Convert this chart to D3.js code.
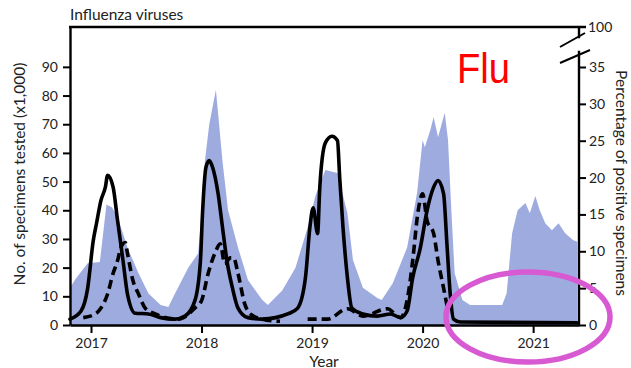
<!DOCTYPE html>
<html><head><meta charset="utf-8">
<script src="https://cdn.jsdelivr.net/npm/d3@7"></script>
<style>body{margin:0;background:#fff}svg{display:block}</style>
</head><body><svg id="c" width="631" height="368"></svg>
<script>
// Number of specimens tested (x1,000) – shaded area, left axis
const specYears = [2016.81,2016.86,2016.97,2017.08,2017.14,2017.19,2017.24,2017.33,2017.43,2017.52,2017.63,2017.70,2017.76,2017.88,2017.97,2018.00,2018.03,2018.07,2018.13,2018.19,2018.24,2018.33,2018.42,2018.55,2018.60,2018.73,2018.85,2018.96,2019.03,2019.12,2019.23,2019.32,2019.37,2019.46,2019.59,2019.63,2019.73,2019.86,2019.95,2020.00,2020.02,2020.07,2020.10,2020.14,2020.20,2020.23,2020.26,2020.29,2020.36,2020.43,2020.72,2020.76,2020.81,2020.86,2020.93,2020.97,2021.02,2021.06,2021.11,2021.17,2021.23,2021.29,2021.36,2021.40];
const specValues = [13,16,21.5,22,42,41,37.7,27,18,11,7,6.3,11,20,25,40,57,70,82,57,40,27,15.7,8.7,7,12,20,34,45,54,53,39,22.7,13,9.4,8.7,14.6,27,46,64.5,62,68,72.5,65.5,74,64.5,40,18,8.7,7,7,11,32,40,42.5,39,45,40,35.5,33,35.5,32,29.6,29];
// Percentage positive – clinical labs (solid), right axis
const clinYears = [2016.81,2016.91,2016.97,2017.02,2017.05,2017.09,2017.13,2017.15,2017.20,2017.24,2017.29,2017.33,2017.40,2017.52,2017.63,2017.76,2017.85,2017.94,2017.99,2018.01,2018.04,2018.07,2018.10,2018.15,2018.19,2018.23,2018.28,2018.33,2018.42,2018.55,2018.67,2018.78,2018.87,2018.94,2018.98,2019.01,2019.05,2019.07,2019.12,2019.18,2019.23,2019.25,2019.28,2019.32,2019.36,2019.46,2019.59,2019.71,2019.80,2019.86,2019.91,2019.98,2020.04,2020.10,2020.14,2020.19,2020.22,2020.25,2020.28,2020.34,2021.40];
const clinPct = [0.8,1.9,5,11.4,13.8,16.9,18.7,20.3,18.7,14.2,8.7,4.2,1.6,1.5,1,0.8,1.2,3.3,8.7,15.5,21.4,22.3,21.4,17.8,13.2,8.7,5,2.3,1,0.8,1,1.5,2.3,6.4,13.2,15.9,12.4,18.7,24.7,25.6,25,20,13.2,6.4,2.3,1.5,1.2,1.5,1,1.9,6.4,10.5,15.5,18.7,19.6,17.8,11,4.2,0.8,0.4,0.3];
// Percentage positive – public health labs (dashed), right axis (null = gap)
const phlYears = [2016.93,2017.04,2017.09,2017.15,2017.20,2017.24,2017.27,2017.31,2017.33,2017.38,2017.43,2017.49,2017.58,2017.79,2017.94,2018.00,2018.06,2018.12,2018.17,2018.21,2018.26,2018.29,2018.33,2018.39,2018.44,2018.55,2018.71,2018.85,2018.96,2019.14,2019.32,2019.46,2019.68,2019.80,2019.87,2019.91,2019.96,2020.00,2020.04,2020.10,2020.14,2020.19,2020.23];
const phlPct = [1,1.5,2.3,4.2,7,8.7,10.5,11.2,9.7,6,4.2,2.3,1.5,0.8,2.3,3.3,7,9.7,11,8.3,9.1,9.1,7,2.9,1.5,0.8,0.5,null,0.8,0.8,2.2,1.2,2.2,1,4.2,8.7,15.5,17.8,14.2,12.4,8.7,5,1.9];

const yearTicks = [2017,2018,2019,2020,2021];
const leftTicks = [0,10,20,30,40,50,60,70,80,90];
const rightTicks = [0,5,10,15,20,25,30,35];
const rightBreakLabel = "100";
const title = "Influenza viruses";
const leftTitle = "No. of specimens tested (x1,000)";
const rightTitle = "Percentage of positive specimens";
const xTitle = "Year";
const note = "Flu";

const svg = d3.select("#c");
const font = "Lato, 'Open Sans', sans-serif";
const L = 70, R = 579, T = 27, B = 325;

const x = d3.scaleLinear().domain([2016.81, 2021.415]).range([L, R]);
const yL = d3.scaleLinear().domain([0, 103.9]).range([B, T]);
const yR = d3.scaleLinear().domain([0, 35]).range([B, 67]);

const spec = specYears.map((d,i)=>({x:d,v:specValues[i]}));
const clin = clinYears.map((d,i)=>({x:d,v:clinPct[i]}));
const phl = phlYears.map((d,i)=>({x:d,v:phlPct[i]}));

svg.append("path").datum(spec)
  .attr("d", d3.area().x(d=>x(d.x)).y0(B).y1(d=>yL(d.v)))
  .attr("fill", "#9eabdf");

svg.append("path").datum(clin)
  .attr("d", d3.line().x(d=>x(d.x)).y(d=>yR(d.v)).curve(d3.curveMonotoneX))
  .attr("fill","none").attr("stroke","#000").attr("stroke-width",3.6)
  .attr("stroke-linejoin","round").attr("stroke-linecap","round");

svg.append("path").datum(phl)
  .attr("d", d3.line().defined(d=>d.v!==null).x(d=>x(d.x)).y(d=>yR(d.v)).curve(d3.curveMonotoneX))
  .attr("fill","none").attr("stroke","#000").attr("stroke-width",3.6)
  .attr("stroke-dasharray","9,5");

// Left axis
const gL = svg.append("g").attr("transform",`translate(${L},0)`)
  .call(d3.axisLeft(yL).tickValues(leftTicks).tickSize(7).tickSizeOuter(0).tickPadding(5));
// Bottom axis
const gB = svg.append("g").attr("transform",`translate(0,${B})`)
  .call(d3.axisBottom(x).tickValues(yearTicks).tickFormat(d3.format("d")).tickSize(8).tickSizeOuter(0).tickPadding(5));
// Right axis
const gR = svg.append("g").attr("transform",`translate(${R},0)`)
  .call(d3.axisRight(yR).tickValues(rightTicks).tickSize(7).tickSizeOuter(0).tickPadding(3));
gR.select(".domain").remove();

[gL,gB,gR].forEach(g=>{
  g.selectAll(".domain").attr("stroke","#000").attr("stroke-width",2.4);
  g.selectAll(".tick line").attr("stroke","#000").attr("stroke-width",2);
  g.selectAll(".tick text").attr("fill","#222").style("font-family",font).style("font-size","14px");
});

// right axis broken line
svg.append("line").attr("x1",R).attr("x2",R).attr("y1",B).attr("y2",yR(37.2)).attr("stroke","#000").attr("stroke-width",2.4);
svg.append("line").attr("x1",R).attr("x2",R).attr("y1",T).attr("y2",yR(38.9)).attr("stroke","#000").attr("stroke-width",2.4);
// top frame
svg.append("line").attr("x1",L-1).attr("x2",R+7).attr("y1",T).attr("y2",T).attr("stroke","#000").attr("stroke-width",2.4);
svg.append("text").attr("x",R+9).attr("y",T).attr("dy","0.35em").text(rightBreakLabel)
  .attr("fill","#222").style("font-family",font).style("font-size","14px");
// break marks
const bm = [[ [R-19,47],[R+6,33] ],[ [R-19,63],[R+11,50] ]];
bm.forEach(s=>svg.append("line").attr("x1",s[0][0]).attr("y1",s[0][1]).attr("x2",s[1][0]).attr("y2",s[1][1])
  .attr("stroke","#000").attr("stroke-width",2));

// titles
svg.append("text").attr("x",L).attr("y",20).text(title)
  .attr("fill","#222").style("font-family",font).style("font-size","15.5px");
svg.append("text").attr("transform",`translate(25,${(T+B)/2-2}) rotate(-90)`).attr("text-anchor","middle").text(leftTitle)
  .attr("fill","#222").style("font-family",font).style("font-size","15.5px");
svg.append("text").attr("transform",`translate(616,${(T+B)/2+7}) rotate(90)`).attr("text-anchor","middle").text(rightTitle)
  .attr("fill","#222").style("font-family",font).style("font-size","15.5px");
svg.append("text").attr("x",324).attr("y",366.5).attr("text-anchor","middle").text(xTitle)
  .attr("fill","#222").style("font-family",font).style("font-size","15.5px");

svg.append("text").attr("x",457).attr("y",83).text(note)
  .attr("fill","#ff0000").style("font-family","'Liberation Sans', Arial, sans-serif").style("font-size","42px")
  .attr("textLength",53).attr("lengthAdjust","spacingAndGlyphs");

svg.append("ellipse").attr("cx",528).attr("cy",317).attr("rx",82).attr("ry",45)
  .attr("fill","none").attr("stroke","#d85ad2").attr("stroke-width",5.5);
</script></body></html>
